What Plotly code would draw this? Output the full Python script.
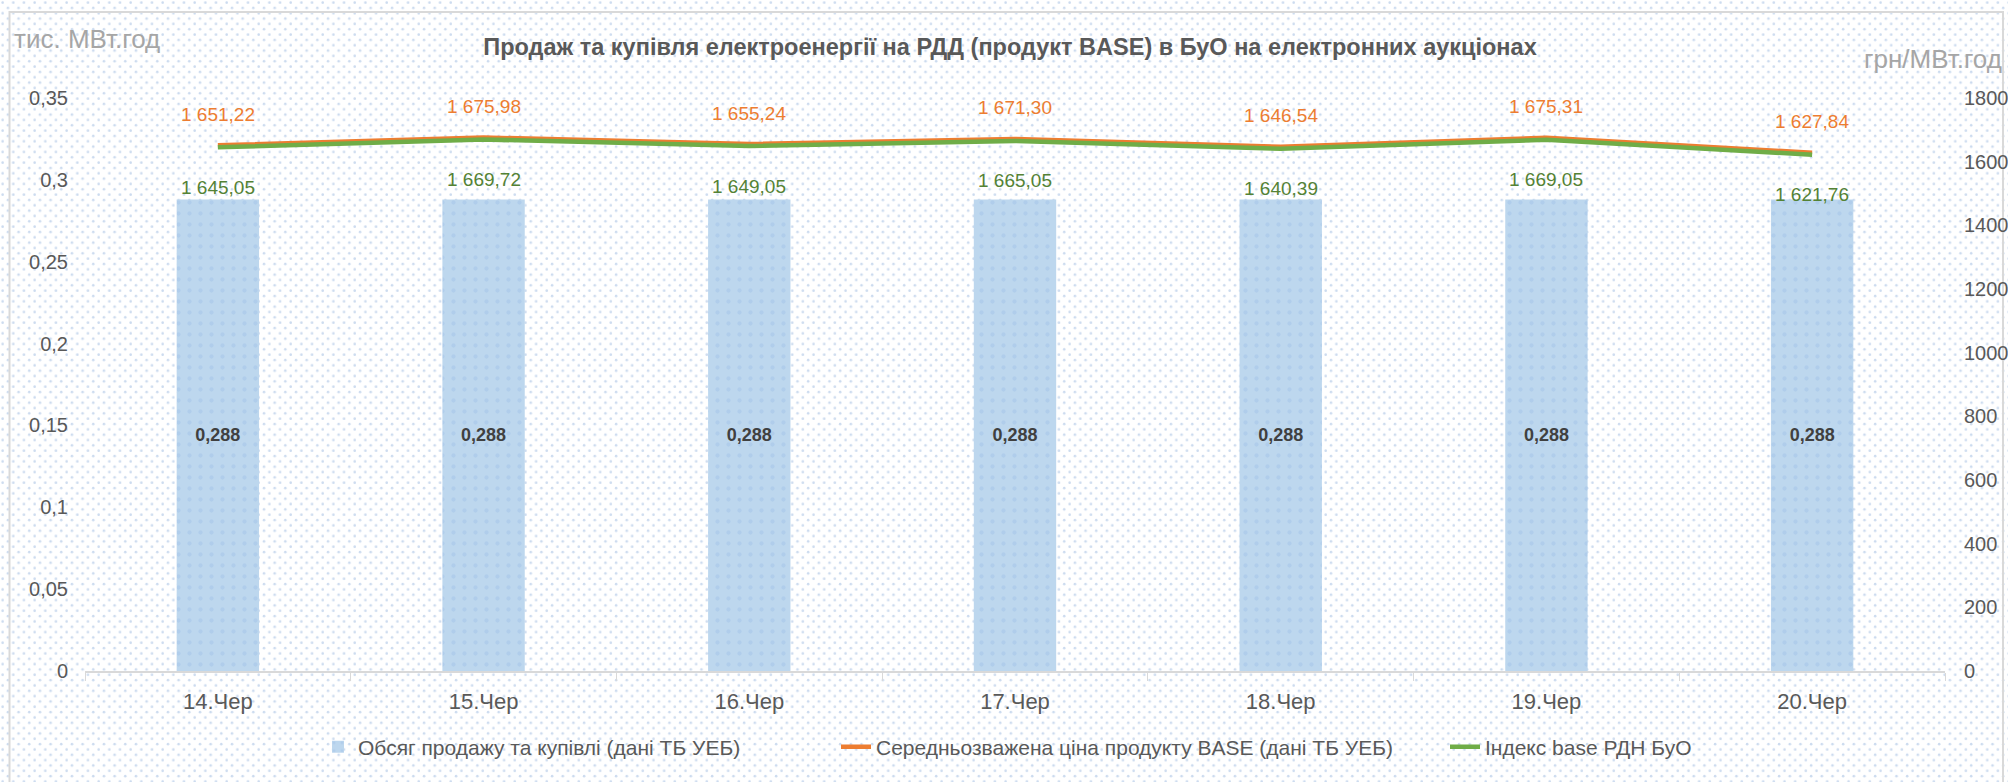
import base64
import plotly.graph_objects as go

# ---- data ----
dates = ["14.Чер", "15.Чер", "16.Чер", "17.Чер", "18.Чер", "19.Чер", "20.Чер"]
volume = [0.288, 0.288, 0.288, 0.288, 0.288, 0.288, 0.288]
price_base = [1651.22, 1675.98, 1655.24, 1671.30, 1646.54, 1675.31, 1627.84]
index_base = [1645.05, 1669.72, 1649.05, 1665.05, 1640.39, 1669.05, 1621.76]
left_ticks = [0, 0.05, 0.1, 0.15, 0.2, 0.25, 0.3, 0.35]
right_ticks = [0, 200, 400, 600, 800, 1000, 1200, 1400, 1600, 1800]

names = ["Обсяг продажу та купівлі (дані ТБ УЕБ)",
         "Середньозважена ціна продукту BASE (дані ТБ УЕБ)",
         "Індекс base РДН БуО"]
title = "Продаж та купівля електроенергії на РДД (продукт BASE) в БуО на електронних аукціонах"

FONT = "Liberation Sans, Arial, sans-serif"
W, H = 2008, 782
L, R, T, B = 85, 63, 98, 111
PW, PH = W - L - R, H - T - B


def ua(v, d):
    s = f"{v:,.{d}f}"
    return s.replace(",", " ").replace(".", ",")


def ua_tick(v):
    s = f"{v:g}"
    return s.replace(".", ",")


fig = go.Figure()

fig.add_trace(go.Bar(
    x=dates, y=volume, name=names[0], yaxis="y", legend="legend",
    marker=dict(color="#BDD7EE", line=dict(width=0),
                pattern=dict(shape=".", fgcolor="#A3C3E8", bgcolor="#BDD7EE",
                             size=11, solidity=0.12)),
    text=[ua(v, 3) for v in volume], textposition="inside",
    insidetextanchor="middle",
    textfont=dict(family=FONT, size=18, color="#404040", weight="bold"),
    hoverinfo="skip",
))

fig.add_trace(go.Scatter(
    x=dates, y=price_base, name=names[1], yaxis="y2", mode="lines", legend="legend2",
    line=dict(color="#ED7D31", width=4.5),
))
fig.add_trace(go.Scatter(
    x=dates, y=index_base, name=names[2], yaxis="y2", mode="lines", legend="legend3",
    line=dict(color="#70AD47", width=4.5),
))

annotations = []
for d, v in zip(dates, price_base):
    annotations.append(dict(x=d, y=v, xref="x", yref="y2", text=ua(v, 2),
                            showarrow=False, yshift=31,
                            font=dict(family=FONT, size=19, color="#ED7D31")))
for d, v in zip(dates, index_base):
    annotations.append(dict(x=d, y=v, xref="x", yref="y2", text=ua(v, 2),
                            showarrow=False, yshift=-40,
                            font=dict(family=FONT, size=19, color="#548235")))

# unit labels
annotations.append(dict(xref="paper", yref="paper", x=(12 - L) / PW, y=(H - B - 39) / PH,
                        xanchor="left", yanchor="middle", showarrow=False,
                        text="тис. МВт.год", font=dict(family=FONT, size=26, color="#A6A6A6")))
annotations.append(dict(xref="paper", yref="paper", x=(2004 - L) / PW, y=(H - B - 59) / PH,
                        xanchor="right", yanchor="middle", showarrow=False,
                        text="грн/МВт.год", font=dict(family=FONT, size=26, color="#A6A6A6")))

# dotted background (decoration)
svg = (f'<svg xmlns="http://www.w3.org/2000/svg" width="{W}" height="{H}">'
       '<defs><pattern id="p" width="10.67" height="10.67" patternUnits="userSpaceOnUse">'
       '<circle cx="2.6" cy="2.6" r="1.3" fill="#CCDBEF"/>'
       '<circle cx="7.93" cy="7.93" r="1.3" fill="#CCDBEF"/>'
       '</pattern></defs>'
       f'<rect width="{W}" height="{H}" fill="#FFFFFF"/>'
       f'<rect width="{W}" height="{H}" fill="url(#p)"/></svg>')
src = "data:image/svg+xml;base64," + base64.b64encode(svg.encode()).decode()

leg_y = (H - B - 747) / PH
leg_common = dict(orientation="h", xanchor="left", y=leg_y, yanchor="middle",
                  font=dict(family=FONT, size=21, color="#595959"),
                  bgcolor="rgba(0,0,0,0)")

fig.update_layout(
    width=W, height=H,
    margin=dict(l=L, r=R, t=T, b=B, autoexpand=False),
    paper_bgcolor="white", plot_bgcolor="rgba(0,0,0,0)",
    separators=", ",
    font=dict(family=FONT, size=20, color="#595959"),
    title=dict(text=f"<b>{title}</b>", x=1010 / W, xanchor="center", y=1 - 47 / H,
               yanchor="middle", yref="container",
               font=dict(family=FONT, size=23.5, color="#595959")),
    bargap=0.69,
    showlegend=True,
    legend=dict(x=(318 - L) / PW, **leg_common),
    legend2=dict(x=(836 - L) / PW, **leg_common),
    legend3=dict(x=(1445 - L) / PW, **leg_common),
    xaxis=dict(showline=True, linecolor="#D9D9D9", linewidth=1.5,
               ticks="outside", tickson="boundaries", ticklen=8, tickcolor="#D9D9D9",
               showgrid=False, tickfont=dict(size=22, color="#595959"),
               ticklabelstandoff=10),
    yaxis=dict(range=[0, 0.35], tickvals=left_ticks,
               ticktext=[ua_tick(v) for v in left_ticks],
               showgrid=False, zeroline=False, showline=False, ticks="",
               tickfont=dict(size=20, color="#595959"), ticklabelstandoff=16),
    yaxis2=dict(range=[0, 1800], tickvals=right_ticks, overlaying="y", side="right",
                showgrid=False, zeroline=False, showline=False, ticks="",
                tickfont=dict(size=20, color="#595959"), ticklabelstandoff=18),
    annotations=annotations,
    images=[dict(source=src, xref="paper", yref="paper", x=-L / PW, y=1 + T / PH,
                 sizex=W / PW, sizey=H / PH, sizing="stretch", layer="below",
                 xanchor="left", yanchor="top")],
    shapes=[dict(type="rect", xref="paper", yref="paper",
                 x0=(9.5 - L) / PW, x1=(2003 - L) / PW,
                 y0=(H - B - 800) / PH, y1=(H - B - 12) / PH,
                 line=dict(color="#D9D9D9", width=2), fillcolor="rgba(0,0,0,0)",
                 layer="below")],
    hovermode=False,
)

fig.write_html("out.html", config={"displayModeBar": False},
               post_script="document.body.style.margin='0';document.body.style.overflow='hidden';")
